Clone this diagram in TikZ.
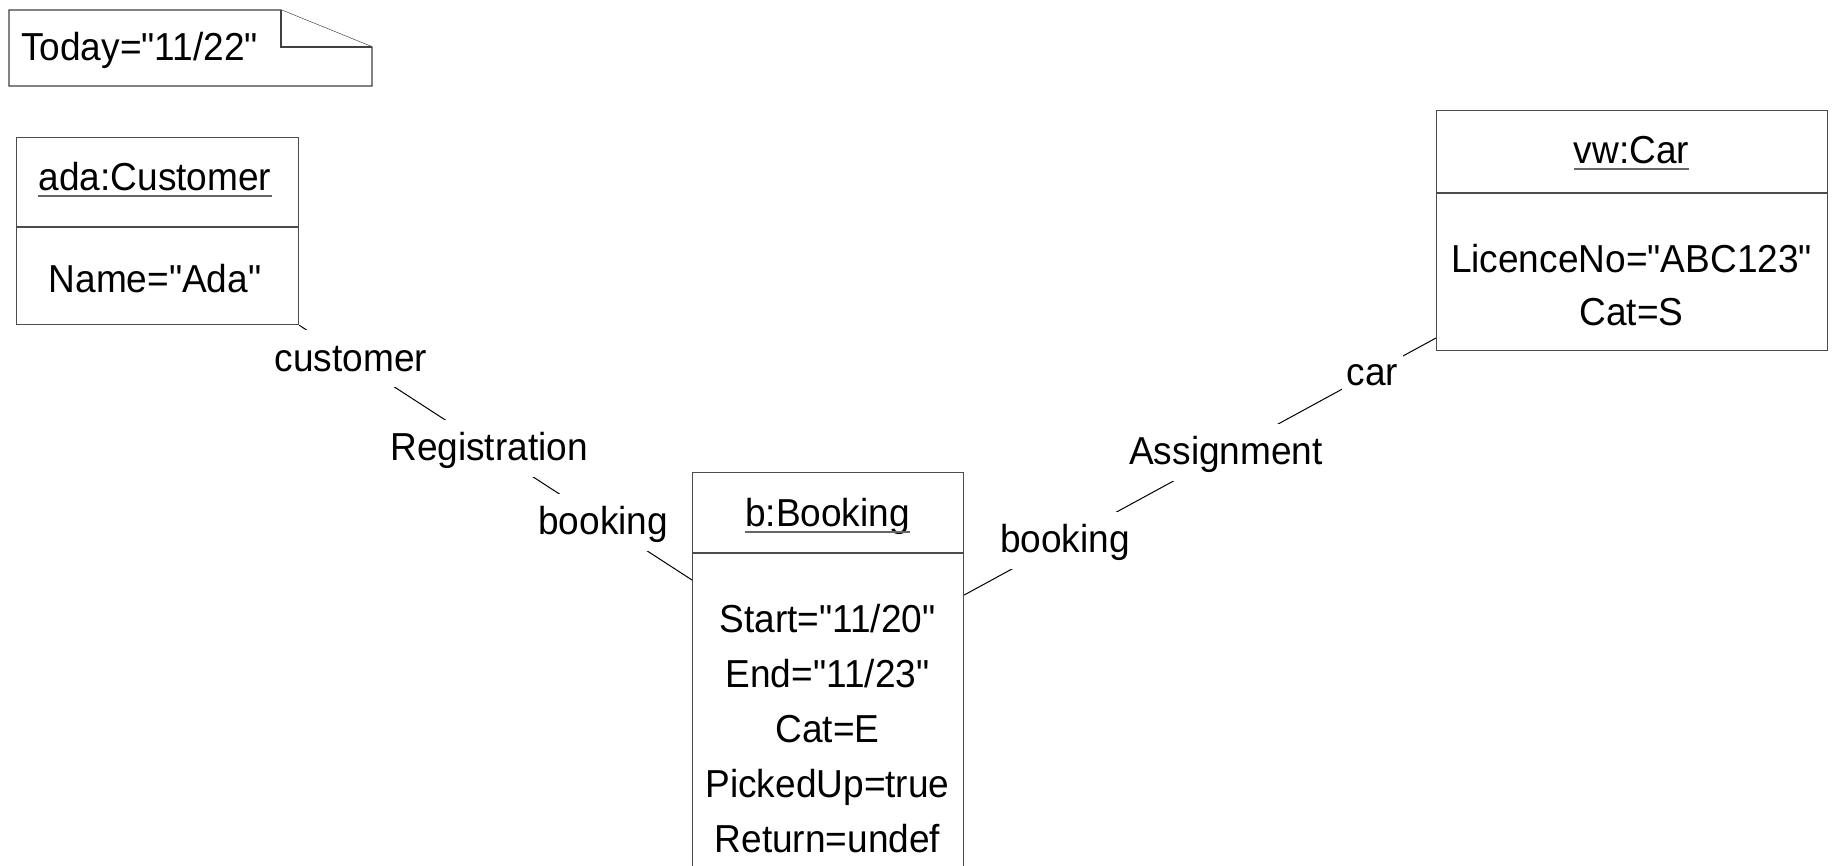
\documentclass[tikz,border=0pt]{standalone}
\usepackage{fontspec}
\setmainfont{Liberation Sans}[Ligatures=TeXOff, FakeStretch=0.95]
\usetikzlibrary{calc}
\begin{document}
\begin{tikzpicture}[x=1pt,y=-1pt,
  every node/.style={font=\fontsize{39}{46}\selectfont, inner sep=0pt},
  objbox/.style={draw=black!70, line width=1.2pt, fill=white, anchor=north west},
  divider/.style={draw=black!70, line width=1.2pt},
  uline/.style={draw=black!60, line width=1.6pt},
  attr/.style={anchor=base},
  link/.style={draw=black, line width=1pt},
  role/.style={fill=white, inner sep=5pt, text height=36pt, text depth=11pt},
  notebox/.style={draw=black!75, line width=1.2pt, fill=white},
]
\useasboundingbox (0,0) rectangle (1833,865);
\clip (0,0) rectangle (1833,865);

% note
\draw[notebox] (9,10) -- (281,10) -- (372,47) -- (372,86) -- (9,86) -- cycle;
\draw[notebox] (281,10) -- (281,47) -- (372,47);
\node[anchor=base west] (today) at (21,60) {Today="11/22"};

% object ada:Customer
\node[objbox, minimum width=282pt, minimum height=187pt] (cust) at (16,137) {};
\draw[divider] ($(cust.north west)+(0,90)$) -- ($(cust.north east)+(0,90)$);
\node[attr] (custtitle) at (155,190) {ada:Customer};
\draw[uline] ([yshift=-6pt]custtitle.base west) -- ([yshift=-6pt]custtitle.base east);
\node[attr] (custname) at (155,292) {Name="Ada"};

% object vw:Car
\node[objbox, minimum width=391pt, minimum height=240pt] (car) at (1436,110) {};
\draw[divider] ($(car.north west)+(0,83)$) -- ($(car.north east)+(0,83)$);
\node[attr] (cartitle) at (1631.5,163) {vw:Car};
\draw[uline] ([yshift=-6pt]cartitle.base west) -- ([yshift=-6pt]cartitle.base east);
\node[attr] (carlic) at (1631.5,272) {LicenceNo="ABC123"};
\node[attr] (carcat) at (1631.5,325) {Cat=S};

% object b:Booking
\node[objbox, minimum width=271pt, minimum height=420pt] (book) at (692,472) {};
\draw[divider] ($(book.north west)+(0,81)$) -- ($(book.north east)+(0,81)$);
\node[attr] (booktitle) at (827.5,526) {b:Booking};
\draw[uline] ([yshift=-6pt]booktitle.base west) -- ([yshift=-6pt]booktitle.base east);
\node[attr] (bstart) at (827.5,632) {Start="11/20"};
\node[attr] (bend)   at (827.5,687) {End="11/23"};
\node[attr] (bcat)   at (827.5,742) {Cat=E};
\node[attr] (bpick)  at (827.5,797) {PickedUp=true};
\node[attr] (bret)   at (827.5,852) {Return=undef};

% link ends
\coordinate (bl) at ($(book.north west)+(0,108)$);
\coordinate (br) at ($(book.north east)+(0,123)$);
\coordinate (cl) at ($(car.north west)+(0,228)$);

% links
\draw[link] (cust.south east)
  -- node[role, pos=0.132] (rcust) {customer}
     node[role, pos=0.4835] (rreg) {Registration}
     node[role, pos=0.774] (rbook1) {booking}
  (bl);
\draw[link] (br)
  -- node[role, pos=0.2135] (rbook2) {booking}
     node[role, pos=0.555] (rass) {Assignment}
     node[role, pos=0.865] (rcar) {car}
  (cl);
\end{tikzpicture}
\end{document}
